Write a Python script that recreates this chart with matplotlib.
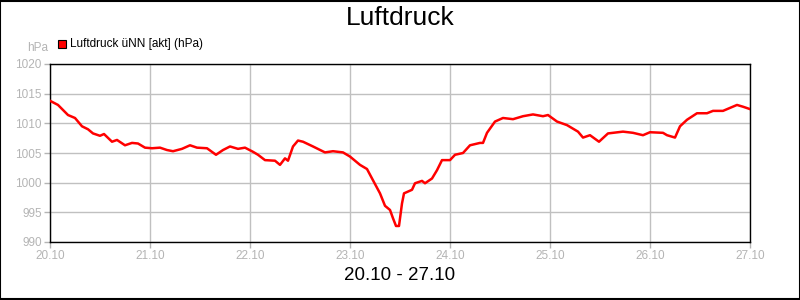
import matplotlib
matplotlib.use("Agg")
import matplotlib.pyplot as plt
from matplotlib.patches import Rectangle

plt.rcParams['font.family'] = ['Liberation Sans', 'DejaVu Sans']

# days since 20.10 00:00
days = [0.00, 0.08, 0.18, 0.25, 0.32, 0.38, 0.43, 0.50, 0.54, 0.62,
        0.67, 0.75, 0.82, 0.88, 0.95, 1.02, 1.10, 1.17, 1.23, 1.32,
        1.40, 1.47, 1.57, 1.66, 1.73, 1.80, 1.88, 1.95, 2.03, 2.08,
        2.15, 2.25, 2.30, 2.35, 2.38, 2.43, 2.48, 2.53, 2.63, 2.75,
        2.83, 2.93, 3.00, 3.10, 3.17, 3.23, 3.30, 3.35, 3.40, 3.43,
        3.46, 3.49, 3.52, 3.54, 3.62, 3.65, 3.72, 3.75, 3.82, 3.87,
        3.92, 4.00, 4.05, 4.13, 4.20, 4.30, 4.33, 4.37, 4.45, 4.53,
        4.63, 4.73, 4.83, 4.93, 4.98, 5.07, 5.17, 5.28, 5.33, 5.40,
        5.49, 5.58, 5.73, 5.83, 5.93, 6.00, 6.13, 6.17, 6.25, 6.30,
        6.37, 6.47, 6.57, 6.63, 6.73, 6.87, 6.93, 7.00]
# hPa
druck = [1013.8, 1013.1, 1011.4, 1010.9, 1009.5, 1009.0, 1008.3, 1007.9, 1008.2, 1006.9,
         1007.2, 1006.3, 1006.7, 1006.6, 1005.9, 1005.8, 1005.9, 1005.5, 1005.3, 1005.7,
         1006.3, 1005.9, 1005.8, 1004.7, 1005.5, 1006.1, 1005.7, 1005.9, 1005.2, 1004.7,
         1003.8, 1003.7, 1003.0, 1004.1, 1003.7, 1006.1, 1007.1, 1006.9, 1006.1, 1005.1,
         1005.3, 1005.1, 1004.4, 1003.0, 1002.3, 1000.4, 998.2, 996.1, 995.4, 994.0,
         992.7, 992.7, 996.5, 998.2, 998.8, 999.9, 1000.3, 999.9, 1000.7, 1002.1,
         1003.8, 1003.8, 1004.7, 1005.0, 1006.3, 1006.7, 1006.7, 1008.4, 1010.3, 1010.9,
         1010.7, 1011.2, 1011.5, 1011.2, 1011.4, 1010.3, 1009.7, 1008.6, 1007.6, 1008.0,
         1006.9, 1008.3, 1008.6, 1008.4, 1008.0, 1008.5, 1008.4, 1008.0, 1007.6, 1009.5,
         1010.6, 1011.7, 1011.7, 1012.1, 1012.1, 1013.1, 1012.8, 1012.4]

xlabels = ["20.10", "21.10", "22.10", "23.10", "24.10", "25.10", "26.10", "27.10"]
yticks = [990, 995, 1000, 1005, 1010, 1015, 1020]

grey = "#b4b4b4"

fig = plt.figure(figsize=(8, 3), dpi=100)
ax = fig.add_axes([50/800, 1-242/300, 700/800, 178/300])

ax.plot(days, druck, color="#ff0000", lw=1.8, zorder=3)

ax.set_xlim(0, 7)
ax.set_ylim(990, 1020)
ax.set_xticks(range(len(xlabels)))
ax.set_xticklabels(xlabels)
ax.set_yticks(yticks)
ax.grid(True, color="#c0c0c0", lw=1)
ax.tick_params(colors=grey, labelcolor=grey, labelsize=8.5, length=4, width=1, pad=2)
for s in ax.spines.values():
    s.set_color("black")
    s.set_linewidth(1)

fig.text(0.5, 1-18/300, "Luftdruck", ha="center", va="center", fontsize=19)
fig.text(0.5, 1-276/300, "20.10 - 27.10", ha="center", va="center", fontsize=13.5)
fig.text(48/800, 1-48/300, "hPa", ha="right", va="center", fontsize=8.5, color=grey)

# legend
fig.patches.append(Rectangle((58/800, 1-48/300), 8/800, 8/300, transform=fig.transFigure,
                             facecolor="#ff0000", edgecolor="black", lw=0.8))
fig.text(70/800, 1-44/300, "Luftdruck üNN [akt] (hPa)", ha="left", va="center", fontsize=8.5)

# outer frame
fig.patches.append(Rectangle((0.0006, 0.0017), 0.9988, 0.9966, transform=fig.transFigure,
                             fill=False, edgecolor="black", lw=1.5))

fig.savefig("out.png", dpi=100)
